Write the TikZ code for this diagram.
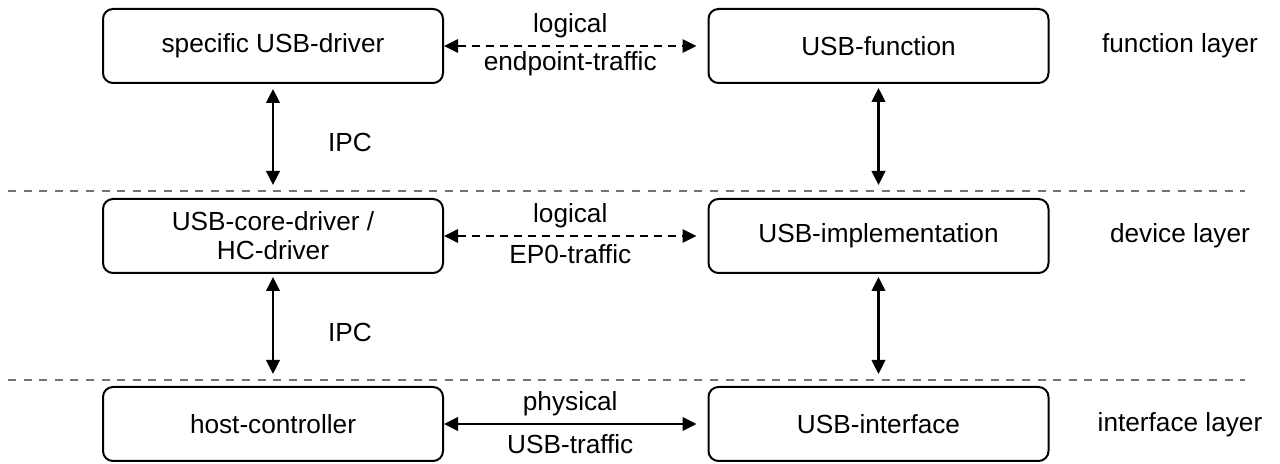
\documentclass[tikz,border=0pt]{standalone}
\usepackage{fontspec}
\setmainfont{Liberation Sans}
\usetikzlibrary{arrows.meta}
\begin{document}
\begin{tikzpicture}[x=0.5pt,y=-0.5pt,
  box/.style={draw, line width=1pt, rounded corners=5pt, minimum width=170pt,
    minimum height=37pt, inner sep=0pt, align=center,
    font=\fontsize{13.1}{14.5}\selectfont},
  lbl/.style={font=\fontsize{13.1}{14}\selectfont, inner sep=0pt},
  tip/.tip={Triangle[length=7pt,width=6.8pt]},
  link/.style={line width=1.1pt, tip-tip},
  soft/.style={line width=0.6pt, dash pattern=on 4pt off 3pt, tip-tip},
  sep/.style={line width=0.6pt, black!55, dash pattern=on 4pt off 3.8pt}]
\useasboundingbox (0,0) rectangle (1280,464);

% layer separators
\coordinate (s1a) at (8,191);
\coordinate (s1b) at (1245,191);
\coordinate (s2a) at (8,380);
\coordinate (s2b) at (1245,380);
\draw[sep] (s1a) -- (s1b);
\draw[sep] (s2a) -- (s2b);

% host side and device side
\node[box] (drv)  at (273,46)   {specific USB-driver};
\node[box] (fun)  at (878.5,46) {USB-function};
\node[box] (core) at (273,236)  {USB-core-driver /\\HC-driver};
\node[box] (impl) at (878.5,236){USB-implementation};
\node[box] (hc)   at (273,424)  {host-controller};
\node[box] (ifc)  at (878.5,424){USB-interface};

% layer names
\node[lbl] (l1) at (1180,46)  {function layer};
\node[lbl] (l2) at (1180,236) {device layer};
\node[lbl] (l3) at (1180,425) {interface layer};

% horizontal traffic
\draw[soft] (drv.east) -- ([xshift=-5.5pt]fun.west)
  node[midway, lbl, yshift=10pt] (t1a) {logical}
  node[midway, lbl, yshift=-9pt] (t1b) {endpoint-traffic};
\draw[soft] (core.east) -- ([xshift=-5.5pt]impl.west)
  node[midway, lbl, yshift=10pt] (t2a) {logical}
  node[midway, lbl, yshift=-9pt] (t2b) {EP0-traffic};
\draw[link] (hc.east) -- ([xshift=-5.5pt]ifc.west)
  node[midway, lbl, yshift=10pt] (t3a) {physical}
  node[midway, lbl, yshift=-10pt] (t3b) {USB-traffic};

% vertical links
\coordinate (e1) at (273,185);
\coordinate (e2) at (878.5,185);
\coordinate (e3) at (273,374);
\coordinate (e4) at (878.5,374);
\draw[link] ([yshift=-2.5pt]drv.south) -- (e1);
\draw[link] ([yshift=-2pt]fun.south) -- (e2);
\draw[link] ([yshift=-1.5pt]core.south) -- (e3);
\draw[link] ([yshift=-1.5pt]impl.south) -- (e4);

\node[lbl] (ipc1) at (350,142) {IPC};
\node[lbl] (ipc2) at (350,332) {IPC};
\end{tikzpicture}
\end{document}
